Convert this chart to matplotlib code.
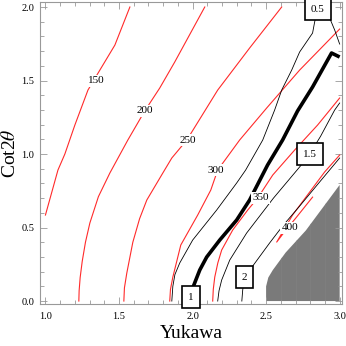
import matplotlib
matplotlib.use('Agg')
import matplotlib.pyplot as plt
from matplotlib.ticker import MultipleLocator

plt.rcParams['font.family'] = ['Liberation Serif', 'DejaVu Serif']
plt.rcParams['mathtext.fontset'] = 'stix'

# red mass contours (x = Yukawa, y = Cot2theta)
m150_x = [1.0, 1.085, 1.132, 1.200, 1.289, 1.370, 1.472, 1.574]
m150_y = [0.585, 0.891, 1.0, 1.197, 1.435, 1.571, 1.741, 2.0]
m200_x = [1.227, 1.229, 1.236, 1.250, 1.272, 1.302, 1.360, 1.438, 1.560, 1.675, 1.777, 1.879, 2.083]
m200_y = [0.0, 0.070, 0.160, 0.270, 0.400, 0.531, 0.710, 0.871, 1.095, 1.293, 1.449, 1.626, 2.0]
m250_x = [1.533, 1.537, 1.553, 1.594, 1.640, 1.689, 1.798, 1.859, 1.961, 2.171, 2.388, 2.606]
m250_y = [0.0, 0.090, 0.19, 0.400, 0.560, 0.687, 0.871, 0.973, 1.095, 1.435, 1.721, 2.0]
m300_x = [1.845, 1.850, 1.866, 1.920, 2.035, 2.124, 2.171, 2.320, 2.504, 2.728, 3.0]
m300_y = [0.0, 0.080, 0.163, 0.381, 0.585, 0.755, 0.891, 1.095, 1.313, 1.571, 1.850]
m350_x = [2.137, 2.141, 2.151, 2.172, 2.198, 2.273, 2.375, 2.443, 2.545, 2.694, 2.850, 3.0]
m350_y = [0.0, 0.080, 0.163, 0.260, 0.347, 0.483, 0.619, 0.701, 0.857, 1.027, 1.197, 1.381]
m400_x = [3.0, 2.898, 2.796, 2.680, 2.572, 2.619, 2.707, 2.816]
m400_y = [0.993, 0.878, 0.741, 0.585, 0.401, 0.463, 0.571, 0.707]

# black ratio contours
r05_x = [3.0, 2.966, 2.932, 2.850, 2.830, 2.816, 2.728, 2.674, 2.606, 2.558,
         2.477, 2.361, 2.300, 2.164, 2.001, 1.913, 1.880, 1.866, 1.859]
r05_y = [1.748, 1.844, 1.925, 1.980, 1.898, 1.823, 1.694, 1.571, 1.435, 1.299,
         1.095, 0.891, 0.803, 0.619, 0.415, 0.259, 0.180, 0.100, 0.0]
r1_x = [2.001, 2.025, 2.049, 2.096, 2.185, 2.300, 2.388, 2.510, 2.612, 2.714, 2.816, 2.945, 3.0]
r1_y = [0.088, 0.150, 0.211, 0.299, 0.415, 0.551, 0.687, 0.925, 1.095, 1.293, 1.456, 1.687, 1.660]
r15_x = [2.171, 2.180, 2.198, 2.253, 2.368, 2.550, 2.728, 2.796, 2.870, 2.966, 3.0]
r15_y = [0.0, 0.070, 0.143, 0.279, 0.463, 0.700, 0.912, 1.0, 1.120, 1.299, 1.347]
r2_x = [2.335, 2.341, 2.354, 2.409, 2.524, 2.612, 2.728, 2.864, 3.0]
r2_y = [0.0, 0.075, 0.163, 0.238, 0.395, 0.510, 0.646, 0.810, 0.973]

# excluded region
excl_x = [2.5, 2.5, 2.515, 2.545, 2.633, 2.77, 3.0, 3.0]
excl_y = [0.0, 0.10, 0.16, 0.21, 0.33, 0.48, 0.79, 0.0]

# labels
mass_labels = ['150', '200', '250', '300', '350', '400']
mass_lab_x = [1.343, 1.675, 1.967, 2.158, 2.463, 2.661]
mass_lab_y = [1.497, 1.293, 1.095, 0.891, 0.701, 0.497]
ratio_labels = ['0.5', '1', '1.5', '2']
ratio_lab_x = [2.850, 1.988, 2.796, 2.354]
ratio_lab_y = [1.986, 0.027, 1.0, 0.163]

fig = plt.figure(figsize=(3.46, 3.46), dpi=100)
ax = fig.add_axes([0.1156, 0.1214, 0.872, 0.8728])

ax.fill(excl_x, excl_y, color='#7a7a7a', lw=0, zorder=1)
# faint mesh inside the excluded region
for gx in [2.6, 2.7, 2.8, 2.9]:
    ax.axvline(gx, color='#828282', lw=0.4, zorder=1.1)
mesh = ax.fill(excl_x, excl_y, fc='none', ec='none', zorder=1)[0]
for ln in ax.lines:
    ln.set_clip_path(mesh)

for xs, ys in [(m150_x, m150_y), (m200_x, m200_y), (m250_x, m250_y),
               (m300_x, m300_y), (m350_x, m350_y), (m400_x, m400_y)]:
    ax.plot(xs, ys, color='#ff2a2a', lw=0.8, zorder=2)

for xs, ys in [(r05_x, r05_y), (r15_x, r15_y), (r2_x, r2_y)]:
    ax.plot(xs, ys, color='black', lw=0.6, zorder=3)
ax.plot(r1_x, r1_y, color='black', lw=2.6, zorder=3, solid_capstyle='butt')

for t, x, y in zip(mass_labels, mass_lab_x, mass_lab_y):
    ax.text(x, y, t, ha='center', va='center', fontsize=8, zorder=5,
            bbox=dict(boxstyle='square,pad=0.1', fc='white', ec='none'))
for t, x, y in zip(ratio_labels, ratio_lab_x, ratio_lab_y):
    ax.text(x, y, t, ha='center', va='center', fontsize=8, zorder=6,
            bbox=dict(boxstyle='square,pad=0.55', fc='white', ec='black', lw=1.2))

ax.set_xlim(0.963, 3.014)
ax.set_ylim(-0.02, 2.034)
ax.xaxis.set_major_locator(MultipleLocator(0.5))
ax.xaxis.set_minor_locator(MultipleLocator(0.1))
ax.yaxis.set_major_locator(MultipleLocator(0.5))
ax.yaxis.set_minor_locator(MultipleLocator(0.1))
ax.tick_params(which='both', direction='in', top=True, right=True, color='#999999',
               labelsize=7.5)
ax.tick_params(axis='x', pad=6)
ax.tick_params(axis='y', pad=4)
ax.tick_params(which='major', length=5, width=0.6)
ax.tick_params(which='minor', length=3, width=0.6)
for s in ax.spines.values():
    s.set_color('#999999')
    s.set_linewidth(0.8)

ax.set_xlabel('Yukawa', fontsize=14, labelpad=3)
ax.set_ylabel(r'Cot2$\theta$', fontsize=14, labelpad=2)

fig.savefig('out.png', dpi=100)
